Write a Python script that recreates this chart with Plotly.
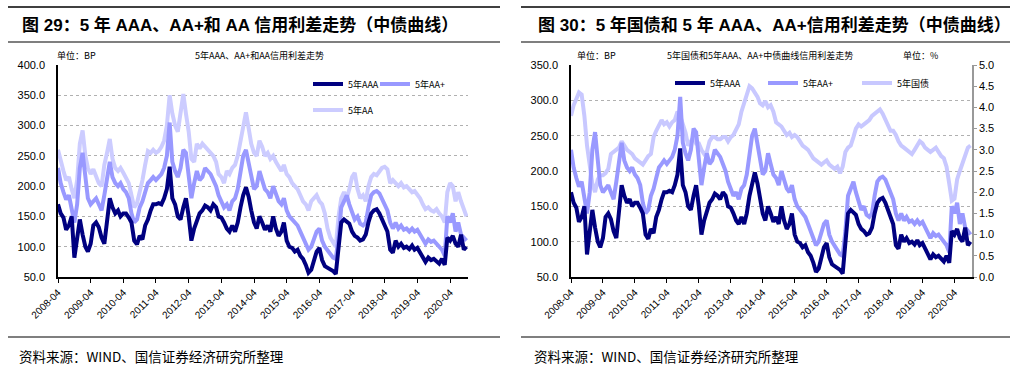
import pandas as pd
import plotly.graph_objects as go

# ---------------- data (monthly, 2008-04 .. 2020-10) ----------------
dates = pd.date_range("2008-04-01", periods=151, freq="MS")

aaa = [170, 155, 148, 128, 135, 150, 82, 110, 145, 120, 100, 92,
       105, 135, 140, 132, 115, 105, 140, 180, 165, 155, 160, 150,
       155, 155, 148, 140, 110, 104, 118, 112, 135, 145, 160, 170,
       170, 172, 170, 180, 195, 232, 180, 170, 150, 145, 165, 180,
       150, 110, 130, 145, 155, 160, 168, 165, 160, 170, 165, 150,
       148, 140, 130, 125, 135, 125, 140, 165, 185, 198, 182, 160,
       140, 130, 150, 140, 128, 135, 125, 150, 130, 118, 125, 140,
       110, 100, 98, 92, 95, 85, 80, 70, 57, 62, 80, 92,
       98, 78, 68, 65, 62, 60, 55, 95, 140, 145, 142, 138,
       125, 118, 115, 110, 112, 120, 140, 155, 160, 162, 155, 145,
       135, 125, 95, 90, 110, 100, 105, 98, 100, 96, 102, 95,
       98, 90, 80, 75, 82, 78, 80, 75, 72, 80, 70, 115,
       110, 118, 105, 100, 120, 95, 100]

aa_plus = [230, 205, 190, 178, 185, 160, 140, 170, 230, 255, 215, 180,
           170, 175, 180, 170, 160, 185, 215, 240, 215, 205, 200, 205,
           195, 190, 180, 155, 140, 145, 165, 175, 190, 205, 210, 215,
           210, 215, 220, 230, 250, 305, 240, 225, 215, 230, 260, 255,
           215, 180, 205, 225, 210, 215, 230, 225, 220, 210, 200, 185,
           175, 165, 170, 160, 175, 180, 195, 225, 250, 260, 235, 215,
           195, 200, 225, 210, 195, 190, 180, 200, 185, 175, 170, 180,
           160, 150, 145, 140, 135, 125, 115, 105, 95, 100, 115, 125,
           130, 110, 100, 95, 88, 82, 80, 115, 165, 175, 185, 170,
           155, 145, 150, 138, 135, 140, 165, 185, 190, 192, 188, 180,
           170, 160, 140, 130, 140, 130, 135, 128, 130, 125, 130, 125,
           128, 120, 110, 105, 112, 108, 110, 105, 100, 95, 85, 150,
           140, 155, 125, 140, 120, 115, 110]

aa = [260, 240, 225, 210, 215, 195, 180, 210, 270, 292, 250, 230,
      220, 228, 215, 205, 200, 235, 255, 278, 245, 230, 225, 230,
      222, 215, 205, 185, 165, 172, 190, 210, 235, 258, 255, 260,
      255, 258, 265, 275, 300, 350, 320, 300, 290, 320, 352, 320,
      290, 245, 240, 270, 262, 270, 265, 258, 255, 250, 240, 220,
      215, 205, 225, 220, 230, 235, 250, 275, 300, 322, 295, 270,
      255, 250, 275, 265, 250, 255, 245, 250, 240, 232, 225, 235,
      220, 215, 205, 200, 195, 185, 175, 170, 160, 175, 180, 185,
      175, 170, 155, 130, 115, 108, 100, 150, 180, 190, 180, 195,
      215, 222, 195, 180, 185, 175, 200, 215, 220, 218, 225, 230,
      232, 228, 205, 210, 205, 200, 205, 198, 200, 195, 190, 192,
      185, 180, 170, 162, 165, 160, 158, 162, 155, 150, 140, 190,
      205, 200, 175, 190, 175, 160, 150]

gov5y = [3.8, 4.05, 4.2, 4.35, 4.3, 3.8, 3.1, 2.6, 2.2, 2.0, 2.3, 2.4,
         2.4, 2.45, 2.55, 2.9, 2.95, 3.0, 3.05, 3.2, 3.1, 3.0, 2.95, 2.9,
         2.8, 2.75, 2.7, 2.65, 2.75, 2.85, 2.9, 3.3, 3.45, 3.6, 3.7, 3.6,
         3.65, 3.55, 3.65, 3.7, 3.9, 3.8, 3.6, 3.4, 3.1, 3.2, 3.3, 3.15,
         3.15, 3.0, 2.9, 2.95, 3.2, 3.3, 3.3, 3.25, 3.25, 3.3, 3.3, 3.2,
         3.3, 3.35, 3.5, 3.6, 3.9, 4.1, 4.3, 4.5, 4.45, 4.35, 4.25, 4.1,
         4.05, 4.15, 4.0, 4.05, 3.9, 3.65, 3.6, 3.55, 3.45, 3.35, 3.4, 3.3,
         3.35, 3.3, 3.2, 3.1, 3.05, 3.0, 2.9, 2.8, 2.75, 2.7, 2.65, 2.7,
         2.75, 2.65, 2.6, 2.55, 2.6, 2.45, 2.6, 2.95, 3.05, 3.1, 3.3, 3.5,
         3.6, 3.55, 3.6, 3.65, 3.7, 3.8, 3.85, 3.9, 3.95, 3.85, 3.7, 3.55,
         3.45, 3.45, 3.35, 3.2, 3.1, 3.05, 3.0, 2.95, 2.9, 3.0, 3.1, 3.2,
         3.15, 3.05, 3.0, 2.95, 3.0, 3.05, 2.95, 2.85, 2.8, 2.6, 2.2, 1.8,
         1.85, 2.3, 2.5, 2.7, 2.9, 3.05, 3.1]

tick_labels = ["2008-04", "2009-04", "2010-04", "2011-04", "2012-04", "2013-04",
               "2014-04", "2015-04", "2016-04", "2017-04", "2018-04", "2019-04",
               "2020-04"]

series_names = {"aaa": "5年AAA", "aa_plus": "5年AA+", "aa": "5年AA", "gov": "5年国债"}
colors = {"aaa": "#000080", "aa_plus": "#9999ff", "aa": "#ccccff", "gov": "#c8c8ff"}

W, H = 1016, 371
def px(x):
    return x / W
def py(y):
    return 1 - y / H

CJK = "Noto Sans CJK SC"
LAT = "Liberation Sans, Arial, Noto Sans CJK SC"
LW = 4

fig = go.Figure()

# ---------------- left chart ----------------
fig.add_trace(go.Scatter(x=dates, y=aa, mode="lines", name=series_names["aa"],
                         line=dict(color=colors["aa"], width=LW), legend="legend3",
                         xaxis="x", yaxis="y"))
fig.add_trace(go.Scatter(x=dates, y=aa_plus, mode="lines", name=series_names["aa_plus"],
                         line=dict(color=colors["aa_plus"], width=LW), legend="legend2",
                         xaxis="x", yaxis="y"))
fig.add_trace(go.Scatter(x=dates, y=aaa, mode="lines", name=series_names["aaa"],
                         line=dict(color=colors["aaa"], width=LW), legend="legend",
                         xaxis="x", yaxis="y"))

# ---------------- right chart ----------------
fig.add_trace(go.Scatter(x=dates, y=gov5y, mode="lines", name=series_names["gov"],
                         line=dict(color=colors["gov"], width=LW), legend="legend6",
                         xaxis="x2", yaxis="y2"))
fig.add_trace(go.Scatter(x=dates, y=aa_plus, mode="lines", name=series_names["aa_plus"],
                         line=dict(color=colors["aa_plus"], width=LW), legend="legend5",
                         xaxis="x2", yaxis="y3"))
fig.add_trace(go.Scatter(x=dates, y=aaa, mode="lines", name=series_names["aaa"],
                         line=dict(color=colors["aaa"], width=LW), legend="legend4",
                         xaxis="x2", yaxis="y3"))

tickvals = pd.to_datetime(tick_labels)
x_end = "2020-10-18"

xcommon = dict(range=[dates[0], x_end], tickvals=tickvals, ticktext=tick_labels,
               tickangle=-45, showline=True, linecolor="black", linewidth=1.5,
               ticks="outside", ticklen=4, tickcolor="black", showgrid=False,
               zeroline=False, automargin=False,
               tickfont=dict(family=LAT, size=10, color="black"))
ydom = [py(277), py(65)]

def leg(x, y):
    return dict(x=px(x), y=py(y), xanchor="left", yanchor="middle",
                orientation="h", bgcolor="rgba(0,0,0,0)", borderwidth=0,
                font=dict(family=CJK, size=9, color="black"))

fig.update_layout(
    width=W, height=H, margin=dict(l=0, r=0, t=0, b=0, autoexpand=False),
    paper_bgcolor="white", plot_bgcolor="white",
    showlegend=True,
    xaxis=dict(domain=[px(58), px(468)], anchor="y", **xcommon),
    yaxis=dict(domain=ydom, anchor="x", range=[50, 400], dtick=50, tick0=50,
               tickformat=".1f", showline=True, linecolor="black", linewidth=1.5,
               showgrid=True, gridcolor="#b0b0b0", griddash="dot", gridwidth=1,
               zeroline=False, ticks="", ticklabelstandoff=9, automargin=False,
               tickfont=dict(family=LAT, size=11, color="black")),
    xaxis2=dict(domain=[px(571), px(972)], anchor="y2", **xcommon),
    yaxis2=dict(domain=ydom, anchor="x2", side="right", range=[0, 5], dtick=0.5, tick0=0,
                tickformat=".1f", showline=True, linecolor="#999999", linewidth=1.5,
                showgrid=False, zeroline=False, ticks="outside", ticklen=3,
                tickcolor="#999999", automargin=False,
                tickfont=dict(family=LAT, size=11, color="black")),
    yaxis3=dict(overlaying="y2", anchor="x2", side="left", range=[50, 350], dtick=50, tick0=50,
                tickformat=".1f", showline=True, linecolor="black", linewidth=1.5,
                showgrid=True, gridcolor="#b0b0b0", griddash="dot", gridwidth=1,
                zeroline=False, ticks="", ticklabelstandoff=9, automargin=False,
                tickfont=dict(family=LAT, size=11, color="black")),
    legend=leg(308, 84),
    legend2=leg(375, 84),
    legend3=leg(308, 110),
    legend4=leg(670, 83),
    legend5=leg(763, 83),
    legend6=leg(857, 83),
)

# ---------------- header / footer decorations ----------------
shapes = []
for x0, x1 in [(8, 500), (521, 1010)]:
    for yy, w in [(7, 1.5), (42, 1.2), (337, 1.2)]:
        shapes.append(dict(type="line", xref="paper", yref="paper",
                           x0=px(x0), x1=px(x1), y0=py(yy), y1=py(yy),
                           line=dict(color="black", width=w)))
fig.update_layout(shapes=shapes)

ann = []
def text(x, y, s, size, family=CJK, bold=False):
    ann.append(dict(x=px(x), y=py(y), xref="paper", yref="paper", text=(f"<b>{s}</b>" if bold else s),
                    showarrow=False, xanchor="left", yanchor="middle",
                    font=dict(family=family, size=size, color="black")))

text(20, 25, "图 29：5 年 AAA、AA+和 AA 信用利差走势（中债曲线）", 17, LAT, True)
text(536, 25, "图 30：5 年国债和 5 年 AAA、AA+信用利差走势（中债曲线）", 17, LAT, True)
text(55, 55, "单位：BP", 9)
text(193, 55, "5年AAA、AA+和AA信用利差走势", 9)
text(575, 55, "单位：BP", 9)
text(665, 55, "5年国债和5年AAA、AA+中债曲线信用利差走势", 9)
text(901, 55, "单位：%", 9)
text(17, 356, "资料来源：WIND、国信证券经济研究所整理", 13.5)
text(532, 356, "资料来源：WIND、国信证券经济研究所整理", 13.5)
fig.update_layout(annotations=ann)

fig.write_html("out.html", config={"displayModeBar": False},
               post_script="document.body.style.margin='0';document.body.style.overflow='hidden';")
